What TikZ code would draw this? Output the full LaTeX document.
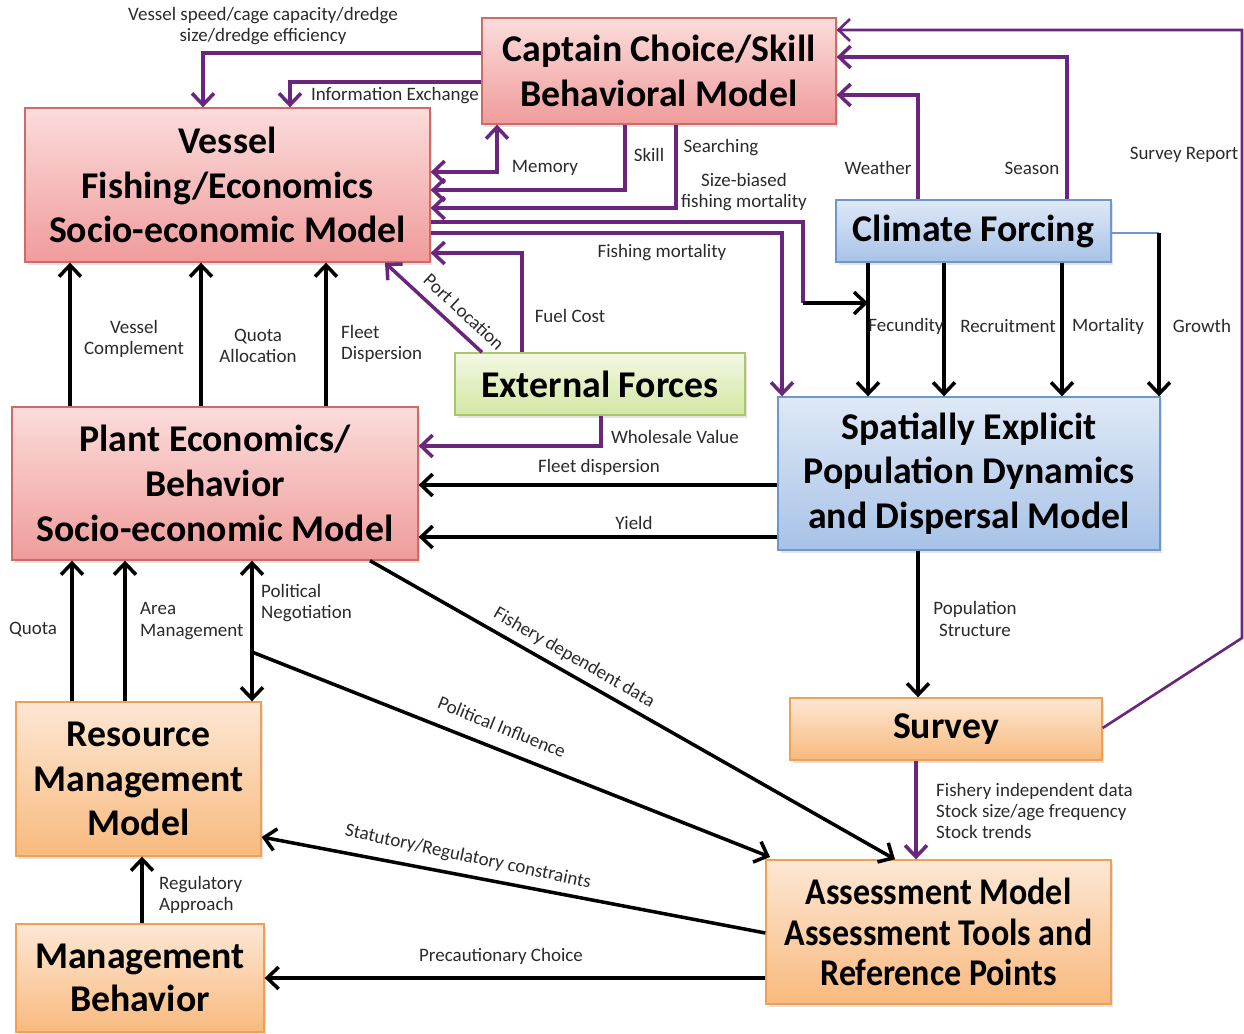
\documentclass[tikz,border=0pt]{standalone}
\usepackage{fontspec}
\setmainfont{Carlito}
\newfontfamily\condfont[FakeStretch=0.9]{Carlito}
\usetikzlibrary{arrows.meta,shadows}
\definecolor{purp}{RGB}{106,38,124}
\definecolor{pinkT}{HTML}{FBDCDB}
\definecolor{pinkD}{HTML}{EF9C9B}
\definecolor{pinkB}{HTML}{CD6B68}
\definecolor{blueT}{HTML}{DFE9F7}
\definecolor{blueD}{HTML}{A7C2E7}
\definecolor{blueB}{HTML}{6F97CC}
\definecolor{greenT}{HTML}{F2F8E4}
\definecolor{greenD}{HTML}{D3E7A2}
\definecolor{greenB}{HTML}{AAC56C}
\definecolor{orT}{HTML}{FDE7D4}
\definecolor{orD}{HTML}{F8BA7E}
\definecolor{orB}{HTML}{F0A055}
\definecolor{lblc}{HTML}{2A2A2A}
\begin{document}
\begin{tikzpicture}[x=0.02cm,y=-0.02cm,
  >={Straight Barb[length=6.5pt,width=12.5pt]},
  box/.style={draw, line width=0.8pt, align=center, inner sep=0pt,
    font=\bfseries\fontsize{21.5}{25.5}\selectfont,
    drop shadow={opacity=0.22,shadow xshift=0.5mm,shadow yshift=-0.6mm}},
  pinkbox/.style={box, draw=pinkB, top color=pinkT, bottom color=pinkD},
  bluebox/.style={box, draw=blueB, top color=blueT, bottom color=blueD},
  greenbox/.style={box, draw=greenB, top color=greenT, bottom color=greenD},
  orbox/.style={box, draw=orB, top color=orT, bottom color=orD},
  lbl/.style={font=\fontsize{10.8}{12.2}\selectfont, text=lblc, inner sep=0.5pt, align=center},
  lbll/.style={lbl, align=left, anchor=west},
  pa/.style={draw=purp, line width=2pt, ->},
  pl/.style={draw=purp, line width=2pt},
  ba/.style={draw=black, line width=2pt, ->},
]
\useasboundingbox (0,0) rectangle (1244,1034);

% boxes
\node[pinkbox, minimum width=7.08cm, minimum height=2.12cm] (cap) at (659,71) {Captain Choice/Skill\\Behavioral Model};
\node[pinkbox, minimum width=8.1cm, minimum height=3.08cm] (ves) at (227.5,185) {Vessel\\Fishing/Economics\\Socio-economic Model};
\node[bluebox, minimum width=5.5cm, minimum height=1.24cm] (cli) at (973.5,231) {Climate Forcing};
\node[greenbox, minimum width=5.8cm, minimum height=1.24cm] (ext) at (600,384) {External Forces};
\node[pinkbox, minimum width=8.12cm, minimum height=3.06cm] (pla) at (215,483.5) {Plant Economics/\\Behavior\\Socio-economic Model};
\node[bluebox, minimum width=7.64cm, minimum height=3.06cm] (spa) at (969,473.5) {Spatially Explicit\\Population Dynamics\\and Dispersal Model};
\node[orbox, minimum width=6.24cm, minimum height=1.24cm] (sur) at (946,729) {Survey};
\node[orbox, minimum width=4.9cm, minimum height=3.08cm] (res) at (138.5,779) {Resource\\Management\\Model};
\node[orbox, minimum width=6.9cm, minimum height=2.88cm, font=\condfont\bfseries\fontsize{21.5}{23.2}\selectfont] (ass) at (938.5,932) {Assessment Model\\Assessment Tools and\\Reference Points};
\node[orbox, minimum width=4.96cm, minimum height=2.16cm, font=\bfseries\fontsize{21.5}{24.4}\selectfont] (mgb) at (140,978) {Management\\Behavior};

% purple connectors
\draw[pa] (cap.west |- 0,53) -| (ves.north -| 203,0);
\draw[pa] (cap.west |- 0,82) -| (ves.north -| 290,0);
\draw[pl, <->] (ves.east |- 0,172) -| (cap.south -| 497,0);
\draw[pa] (cap.south -| 625,0) |- (ves.east |- 0,190);
\draw[pa] (cap.south -| 676,0) |- (ves.east |- 0,208);
\coordinate (fk) at (803,303);
\coordinate (fec) at (868,303);
\draw[pl] (ves.east |- 0,222) -| (fk);
\draw[ba] (fk) -- (fec);
\draw[pa] (ves.east |- 0,233) -| (spa.north -| 782,0);
\draw[pa] (ext.north -| 522,0) |- (ves.east |- 0,253);
\draw[pa] (ext.north -| 482,0) -- (ves.south -| 385,0);
\draw[pa] (ext.south -| 601,0) |- (pla.east |- 0,446);
\draw[pa] (cli.north -| 918,0) |- (cap.east |- 0,95);
\draw[pa] (cli.north -| 1067,0) |- (cap.east |- 0,57);
\coordinate (sr) at (1242,638);
\draw[pa, line width=1.5pt] (sur.east |- 0,728) -- (sr) |- (cap.east |- 0,30);
\draw[pa] (sur.south -| 916,0) -- (ass.north -| 916,0);

% black connectors
\draw[ba] (cli.south -| 868,0) -- (spa.north -| 868,0);
\draw[ba] (cli.south -| 944,0) -- (spa.north -| 944,0);
\draw[ba] (cli.south -| 1062,0) -- (spa.north -| 1062,0);
\coordinate (gr) at (1159,233);
\draw[draw=blueB, line width=1.5pt] (cli.east |- gr) -- (gr);
\draw[ba] (gr) -- (spa.north -| gr);
\draw[ba] (pla.north -| 70,0) -- (ves.south -| 70,0);
\draw[ba] (pla.north -| 201,0) -- (ves.south -| 201,0);
\draw[ba] (pla.north -| 326,0) -- (ves.south -| 326,0);
\draw[ba] (spa.west |- 0,485) -- (pla.east |- 0,485);
\draw[ba] (spa.west |- 0,537) -- (pla.east |- 0,537);
\draw[ba] (spa.south -| 918,0) -- (sur.north -| 918,0);
\draw[ba] (res.north -| 72,0) -- (pla.south -| 72,0);
\draw[ba] (res.north -| 125,0) -- (pla.south -| 125,0);
\draw[ba, <->] (res.north -| 252,0) -- (pla.south -| 252,0);
\coordinate (pi) at (252,652);
\coordinate (pie) at (770,857);
\draw[ba] (pi) -- (pie);
\draw[ba] (pla.south -| 370,0) -- (ass.north -| 895,0);
\draw[ba] (ass.west |- 0,933) -- (res.east |- 0,837);
\draw[ba] (mgb.north -| 142,0) -- (res.south -| 142,0);
\draw[ba] (ass.west |- 0,978) -- (mgb.east |- 0,978);

% labels
\node[lbl] (l1) at (263,26) {Vessel speed/cage capacity/dredge\\size/dredge efficiency};
\node[lbl] (l2) at (395,96) {Information Exchange};
\node[lbl] (l3) at (545,168) {Memory};
\node[lbl] (l4) at (649,155) {Skill};
\node[lbl] (l5) at (721,148) {Searching};
\node[lbl] (l6) at (744,192) {Size-biased\\fishing mortality};
\node[lbl] (l7) at (662,253) {Fishing mortality};
\node[lbl] (l8) at (570,316) {Fuel Cost};
\node[lbl, rotate=-43] (l9) at (464,312) {Port Location};
\node[lbl] (l10) at (675,437) {Wholesale Value};
\node[lbl] (l11) at (878,168) {Weather};
\node[lbl] (l12) at (1032,168) {Season};
\node[lbl] (l13) at (1184,155) {Survey Report};
\node[lbl] (l14) at (906,326) {Fecundity};
\node[lbl] (l15) at (1008,326) {Recruitment};
\node[lbl] (l16) at (1108,326) {Mortality};
\node[lbl] (l17) at (1202,326) {Growth};
\node[lbl] (l18) at (134,339) {Vessel\\Complement};
\node[lbl] (l19) at (258,346) {Quota\\Allocation};
\node[lbll] (l20) at (340,344) {Fleet\\Dispersion};
\node[lbl] (l21) at (599,467) {Fleet dispersion};
\node[lbl] (l22) at (634,523) {Yield};
\node[lbl] (l23) at (975,619) {Population\\Structure};
\node[lbll] (l24) at (935,811) {Fishery independent data\\Stock size/age frequency\\Stock trends};
\node[lbl] (l25) at (33,630) {Quota};
\node[lbll] (l26) at (139,621) {Area\\Management};
\node[lbll] (l27) at (260,603) {Political\\Negotiation};
\node[lbl, rotate=-30] (l28) at (574,658) {Fishery dependent data};
\node[lbl, rotate=-22] (l29) at (502,727) {Political Influence};
\node[lbl, rotate=-12] (l30) at (468,857) {Statutory/Regulatory constraints};
\node[lbll] (l31) at (158,895) {Regulatory\\Approach};
\node[lbl] (l32) at (501,956) {Precautionary Choice};
\end{tikzpicture}
\end{document}
